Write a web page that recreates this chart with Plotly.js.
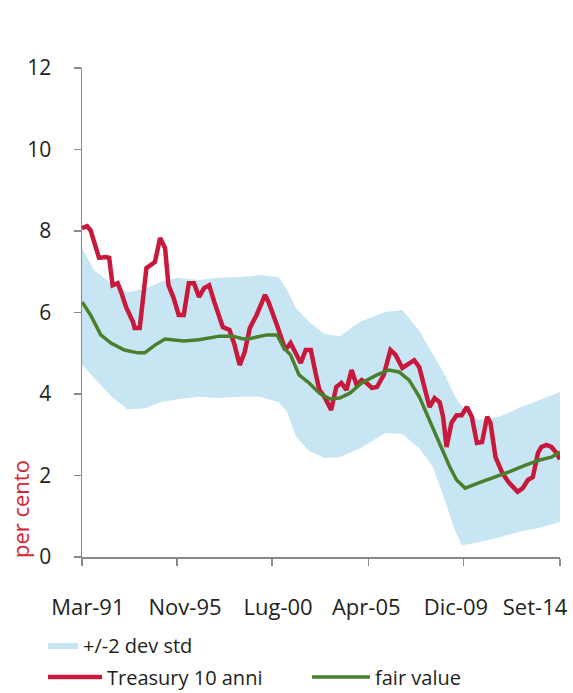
<!DOCTYPE html>
<html><head><meta charset="utf-8">
<script src="https://cdn.plot.ly/plotly-3.0.1.min.js"></script>
<style>html,body{margin:0;padding:0;background:#fff}#chart{width:573px;height:693px}</style>
</head><body><div id="chart"></div>
<script>
// Treasury 10 anni (per cento)
const treasuryDates = ['1991-03','1991-06','1991-08','1991-11','1992-01','1992-05','1992-07','1992-09','1992-12','1993-02','1993-05','1993-09','1993-10','1994-01','1994-05','1994-10','1995-01','1995-04','1995-06','1995-09','1995-12','1996-03','1996-06','1996-09','1996-12','1997-03','1997-06','1997-09','1998-02','1998-06','1998-09','1998-12','1999-03','1999-06','1999-10','2000-03','2000-05','2000-10','2001-01','2001-03','2001-06','2001-09','2001-12','2002-03','2002-06','2002-09','2002-11','2003-02','2003-06','2003-09','2003-12','2004-03','2004-06','2004-09','2004-12','2005-03','2005-06','2005-09','2006-01','2006-05','2006-08','2006-12','2007-03','2007-07','2007-10','2008-01','2008-04','2008-07','2008-10','2008-12','2009-02','2009-05','2009-08','2009-11','2010-02','2010-05','2010-08','2010-11','2011-02','2011-04','2011-07','2011-11','2012-03','2012-08','2012-11','2013-02','2013-05','2013-08','2013-10','2014-01','2014-04','2014-07','2014-09'];
const treasury = [8.07,8.12,8.02,7.58,7.34,7.36,7.34,6.67,6.72,6.50,6.13,5.77,5.62,5.62,7.09,7.24,7.83,7.58,6.67,6.36,5.94,5.94,6.72,6.72,6.38,6.60,6.67,6.26,5.64,5.57,5.20,4.71,5.03,5.62,5.94,6.43,6.26,5.69,5.33,5.08,5.25,5.01,4.76,5.08,5.08,4.47,4.10,3.93,3.61,4.17,4.27,4.10,4.59,4.22,4.34,4.27,4.15,4.17,4.47,5.08,4.96,4.64,4.71,4.83,4.66,4.17,3.68,3.90,3.80,3.44,2.70,3.29,3.48,3.48,3.68,3.44,2.80,2.82,3.44,3.29,2.45,2.06,1.82,1.60,1.69,1.89,1.96,2.55,2.70,2.75,2.70,2.55,2.40];

// fair value
const fairDates = ['1991-03','1991-08','1992-02','1992-08','1993-04','1993-12','1994-04','1994-10','1995-04','1996-03','1996-12','1997-12','1998-08','1999-02','1999-07','2000-04','2000-10','2001-02','2001-06','2001-11','2002-05','2002-11','2003-05','2003-11','2004-05','2004-12','2005-09','2006-04','2006-10','2007-04','2007-10','2008-04','2008-10','2009-04','2009-08','2010-01','2010-09','2011-07','2012-03','2013-01','2013-09','2014-04','2014-09'];
const fairValue = [6.26,5.94,5.45,5.25,5.08,5.01,5.01,5.20,5.35,5.30,5.33,5.42,5.42,5.35,5.37,5.45,5.45,5.13,4.96,4.47,4.27,4.02,3.88,3.90,4.02,4.27,4.47,4.59,4.54,4.34,3.93,3.36,2.80,2.21,1.89,1.69,1.82,1.96,2.09,2.26,2.38,2.45,2.58];

// +/-2 dev std band
const bandDates = ['1991-03','1991-10','1992-08','1993-06','1994-04','1995-01','1995-11','1996-12','1997-12','1998-12','1999-12','2000-11','2001-04','2001-09','2002-05','2003-02','2003-11','2004-11','2006-02','2006-12','2007-10','2008-06','2009-01','2009-07','2009-11','2010-09','2011-09','2012-09','2013-09','2014-09'];
const bandUpper = [7.58,7.04,6.72,6.50,6.58,6.75,6.85,6.80,6.85,6.87,6.92,6.87,6.55,6.11,5.77,5.47,5.42,5.77,6.01,6.06,5.55,4.98,4.47,3.95,3.70,3.36,3.44,3.66,3.85,4.05];
const bandLower = [4.72,4.40,3.95,3.62,3.65,3.80,3.87,3.93,3.90,3.93,3.93,3.80,3.56,2.97,2.60,2.43,2.45,2.67,3.04,3.02,2.67,2.21,1.40,0.65,0.29,0.36,0.48,0.62,0.72,0.86];

const tickDates = ['1991-03-01','1995-11-01','2000-07-01','2005-04-01','2009-12-01','2014-09-01'];
const tickLabels = ['Mar-91','Nov-95','Lug-00','Apr-05','Dic-09','Set-14'];
const labelDates = ['1991-06-15','1996-03-25','2000-10-20','2005-02-20','2009-07-20','2013-06-10'];
const yTicks = [0,2,4,6,8,10,12];

const RED = '#C8193C', GREEN = '#4A7F2C', BLUE = '#C8E5F4', AXIS = '#8a8a8a';
const FONT = 'Open Sans, sans-serif';

const traces = [
  {x: bandDates, y: bandLower, mode: 'lines', line: {width: 0, color: BLUE}, showlegend: false, hoverinfo: 'skip'},
  {x: bandDates, y: bandUpper, mode: 'lines', fill: 'tonexty', fillcolor: BLUE, line: {width: 0, color: BLUE}, name: '+/-2 dev std', legend: 'legend'},
  {x: treasuryDates, y: treasury, mode: 'lines', line: {width: 4.5, color: RED}, name: 'Treasury 10 anni', legend: 'legend2'},
  {x: fairDates, y: fairValue, mode: 'lines', line: {width: 3.5, color: GREEN}, name: 'fair value', legend: 'legend3'},
  {x: [], y: [], xaxis: 'x2', showlegend: false, hoverinfo: 'skip'}
];

const legendFont = {family: FONT, size: 20, color: '#231F20'};
const layout = {
  width: 573, height: 693,
  margin: {l: 82, r: 13, t: 68, b: 136},
  paper_bgcolor: '#fff', plot_bgcolor: '#fff',
  font: {family: FONT, size: 20, color: '#231F20'},
  showlegend: true,
  xaxis: {type: 'date', range: ['1991-03-01', '2014-09-01'], tickvals: tickDates, showticklabels: false,
    ticks: 'outside', ticklen: 7, tickwidth: 1.5, tickcolor: AXIS, showline: true, linecolor: AXIS, linewidth: 1.5,
    showgrid: false, zeroline: false, fixedrange: true},
  xaxis2: {type: 'date', overlaying: 'x', anchor: 'y', side: 'bottom', range: ['1991-03-01', '2014-09-01'],
    tickvals: labelDates, ticktext: tickLabels, ticks: '', showline: false, showgrid: false, zeroline: false,
    ticklabelstandoff: 35, tickfont: {family: FONT, size: 22, color: '#231F20'}, fixedrange: true},
  yaxis: {range: [0, 12], tickvals: yTicks, ticks: 'outside', ticklen: 7, tickwidth: 1.5, tickcolor: AXIS,
    showline: true, linecolor: AXIS, linewidth: 1.5, showgrid: false, zeroline: false,
    ticklabelstandoff: 18, tickfont: {family: FONT, size: 21, color: '#231F20'}, fixedrange: true},
  legend: {orientation: 'h', xref: 'container', yref: 'container', x: 0.075, xanchor: 'left', y: 0.0693, yanchor: 'middle',
    bgcolor: 'rgba(0,0,0,0)', font: legendFont},
  legend2: {orientation: 'h', xref: 'container', yref: 'container', x: 0.075, xanchor: 'left', y: 0.0231, yanchor: 'middle',
    bgcolor: 'rgba(0,0,0,0)', font: legendFont, itemwidth: 54},
  legend3: {orientation: 'h', xref: 'container', yref: 'container', x: 0.5358, xanchor: 'left', y: 0.0231, yanchor: 'middle',
    bgcolor: 'rgba(0,0,0,0)', font: legendFont, itemwidth: 58},
  annotations: [{text: 'per cento', textangle: -90, xref: 'paper', yref: 'paper', x: -0.1297, y: 0.098,
    xanchor: 'center', yanchor: 'middle', showarrow: false, font: {family: FONT, size: 22, color: '#D8232E'}}]
};

Plotly.newPlot('chart', traces, layout, {displayModeBar: false, staticPlot: true});
</script></body></html>
